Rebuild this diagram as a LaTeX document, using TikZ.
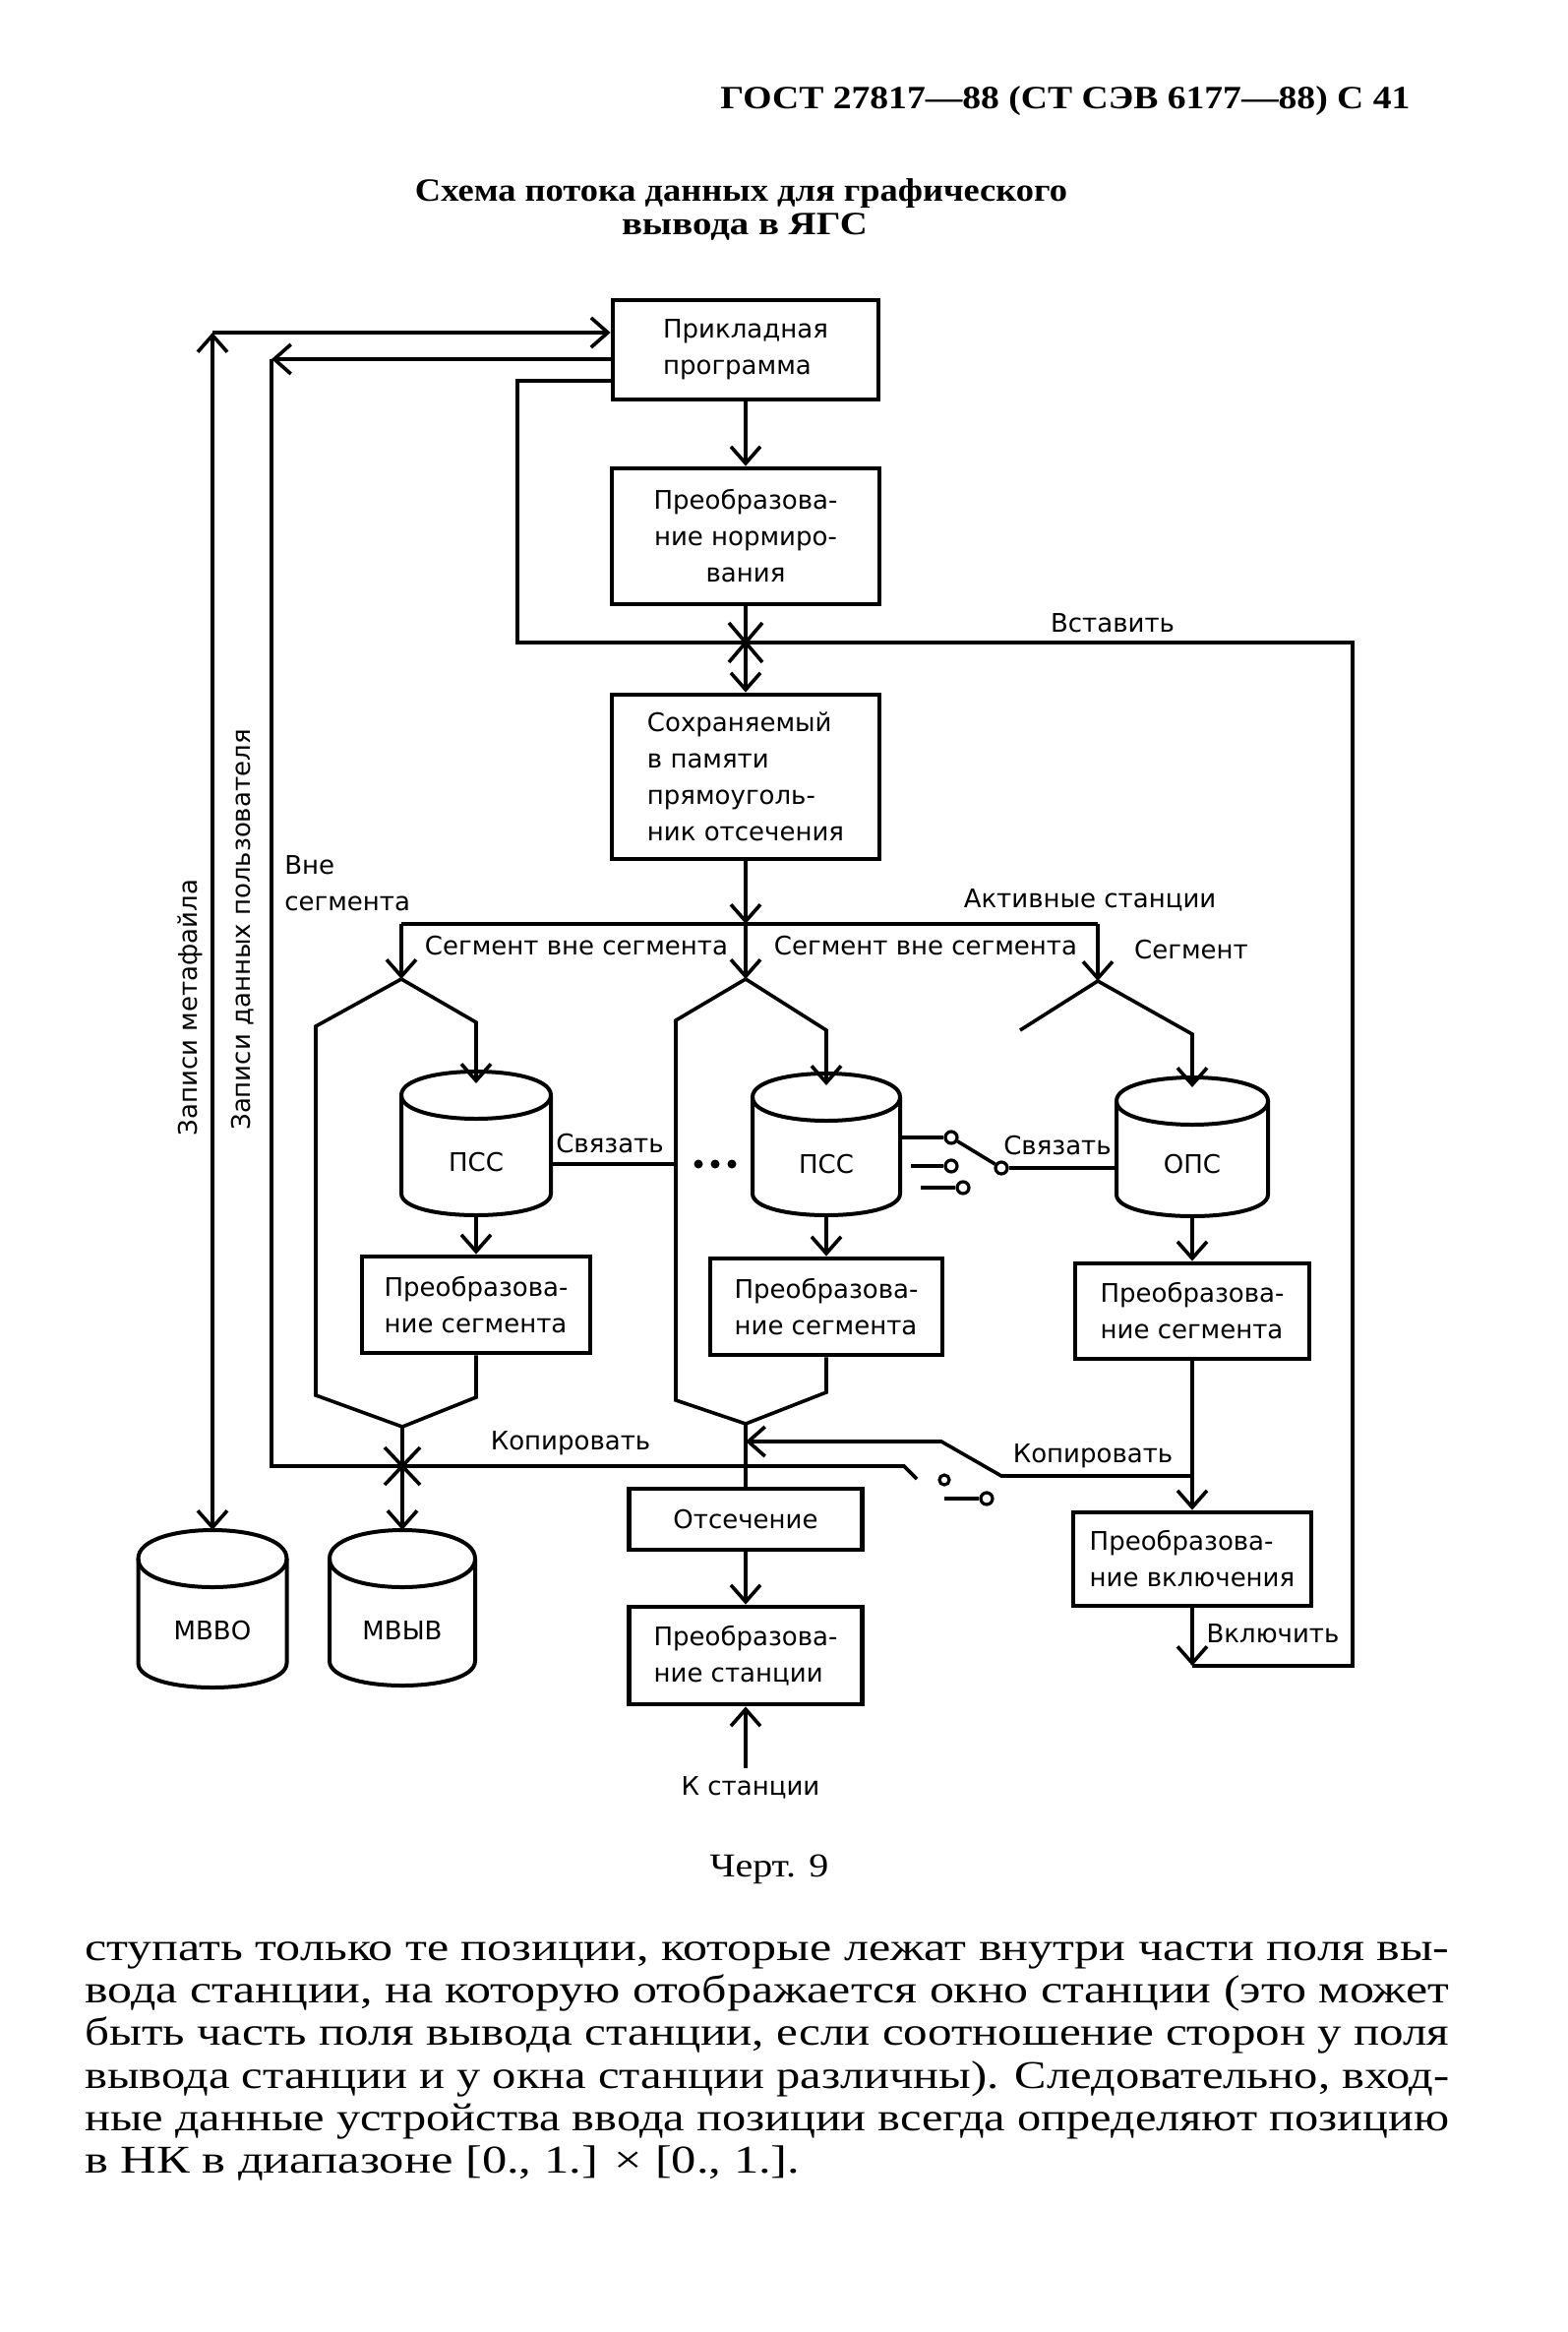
\documentclass[tikz,border=0pt]{standalone}
\usepackage{fontspec}
\usepackage{graphicx}
\setmainfont{DejaVu Sans}
\newfontfamily\serif{Liberation Serif}
\usetikzlibrary{arrows.meta,calc}
\newcommand\lbl{\fontsize{13}{18.5}\selectfont}
\newcommand\hdf{\serif\bfseries\fontsize{16.5}{20}\selectfont}
\newcommand\bdf{\serif\fontsize{20}{21.5}\selectfont}
\newcommand\cylout[3]{%
 \draw[cylline] ($(#1.north west)+(0,#2)$) .. controls ($(#1.north west)+(0,-#2/3)$) and ($(#1.north east)+(0,-#2/3)$) .. ($(#1.north east)+(0,#2)$) .. controls ($(#1.north east)+(0,#2*7/3)$) and ($(#1.north west)+(0,#2*7/3)$) .. cycle;
 \draw[cylline] ($(#1.north west)+(0,#2)$) -- ($(#1.south west)+(0,-#3)$) .. controls ($(#1.south west)+(0,#3/3)$) and ($(#1.south east)+(0,#3/3)$) .. ($(#1.south east)+(0,-#3)$) -- ($(#1.north east)+(0,#2)$);
}
\tikzset{
 conn/.style={line width=1.8pt},
 box/.style={draw, line width=2.4pt, inner sep=0pt, font=\lbl, align=left},
 cylbox/.style={inner sep=0pt, outer sep=0pt},
 cylline/.style={line width=2pt},
 lab/.style={inner sep=0pt, font=\lbl},
 swc/.style={circle, draw, fill=white, line width=1.6pt, minimum size=6pt, inner sep=0pt},
 bigdot/.style={circle, fill, minimum size=4.5pt, inner sep=0pt},
 txt/.style={inner sep=0pt},
}
\begin{document}
\begin{tikzpicture}[x=0.5pt,y=-0.5pt,>={Straight Barb[length=8.5pt,width=15pt]}]
\fill[white] (0,0) rectangle (1594,2370);
\useasboundingbox (0,0) rectangle (1594,2370);

% header and title
\node[txt, anchor=west] (hdr) at (732,103) {\resizebox{350.5pt}{\height}{\hdf ГОСТ 27817—88 (СТ СЭВ 6177—88) С 41}};
\node[txt] (t1) at (753.5,197) {\resizebox{331.5pt}{\height}{\hdf Схема потока данных для графического}};
\node[txt] (t2) at (757,230) {\resizebox{125pt}{\height}{\hdf вывода в ЯГС}};

% boxes
\node[box, minimum width=135pt, minimum height=50.5pt] (app) at (758,355.5) {Прикладная\\программа};
\node[box, align=center, minimum width=136pt, minimum height=69pt] (norm) at (758,545) {Преобразова-\\ние нормиро-\\вания};
\node[box, minimum width=136pt, minimum height=83.5pt] (clip) at (758,789.5) {Сохраняемый\\в памяти\\прямоуголь-\\ник отсечения};
\node[box, minimum width=116pt, minimum height=49pt] (seg1) at (484,1326) {Преобразова-\\ние сегмента};
\node[box, minimum width=118pt, minimum height=49pt] (seg2) at (840,1328) {Преобразова-\\ние сегмента};
\node[box, minimum width=119pt, minimum height=48.5pt] (seg3) at (1212,1332.5) {Преобразова-\\ние сегмента};
\node[box, minimum width=121pt, minimum height=47.5pt] (incl) at (1212,1584.5) {Преобразова-\\ние включения};
\node[box, align=center, minimum width=118.5pt, minimum height=31pt] (ots) at (758,1544) {Отсечение};
\node[box, minimum width=118.5pt, minimum height=49.5pt] (sta) at (758,1682.5) {Преобразова-\\ние станции};

% cylinders
\node[cylbox, minimum width=76pt, minimum height=73pt] (psc1) at (484,1162) {};
\node[cylbox, minimum width=75pt, minimum height=72pt] (psc2) at (840,1163) {};
\node[cylbox, minimum width=77pt, minimum height=70.5pt] (ops) at (1212,1165.5) {};
\node[cylbox, minimum width=75.5pt, minimum height=80pt] (mbbo) at (216,1635) {};
\node[cylbox, minimum width=74pt, minimum height=79pt] (mbyv) at (409,1634) {};
\cylout{psc1}{24}{22}
\cylout{psc2}{24}{22}
\cylout{ops}{24}{22}
\cylout{mbbo}{29}{25}
\cylout{mbyv}{29}{25}
\node[lab] (psc1t) at (484,1181) {ПСС};
\node[lab] (psc2t) at (840,1183) {ПСС};
\node[lab] (opst) at (1212,1183) {ОПС};
\node[lab] (mbbot) at (216,1657) {МВВО};
\node[lab] (mbyvt) at (409,1657) {МВЫВ};

% main column
\draw[conn,->] (app.south) -- (norm.north);
\draw[conn,->] (norm.south) -- (clip.north);
\coordinate (xa) at (758,653);
\draw[conn] (xa) +(-17,-20) -- +(17,20) (xa) +(17,-20) -- +(-17,20);

% insert loop
\coordinate (vk) at (1212,1693);
\draw[conn,->] (incl.south) -- (vk);
\draw[conn] (vk) -- (1375,1693) -- (1375,653) -- (526,653) -- (526,387) -- ($(app.west)+(0,31.5)$);

% metafile records
\coordinate (mc) at (216,338);
\draw[conn,<->] (mbbo.north) -- (mc);
\draw[conn,->] (mc) -- ($(app.west)+(0,-17.5)$);

% user data records
\coordinate (uc) at (276,365);
\coordinate (ul) at (276,1490);
\coordinate (ur) at (919,1490);
\coordinate (ue) at (932,1503);
\draw[conn,->] ($(app.west)+(0,9.5)$) -- (uc);
\draw[conn] (uc) -- (ul) -- (ur) -- (ue);
\coordinate (xb) at (409,1490);
\draw[conn] (xb) +(-18,-19) -- +(18,19) (xb) +(18,-19) -- +(-18,19);
\node[swc, minimum size=5pt] (sb1) at (960,1504) {};
\coordinate (sb2s) at (960,1523);
\node[swc] (sb2) at (1003,1523) {};
\draw[conn] (sb2s) -- (sb2);

% split
\coordinate (sp) at (758,939);
\coordinate (spl) at (408,939);
\coordinate (spr) at (1116,939);
\coordinate (al) at (408,995);
\coordinate (am) at (758,995);
\coordinate (ar) at (1116,997);
\draw[conn,->] (clip.south) -- (sp);
\draw[conn] (spl) -- (spr);
\draw[conn,->] (spl) -- (al);
\draw[conn,->] (sp) -- (am);
\draw[conn,->] (spr) -- (ar);

% left branch
\coordinate (ab1) at (409,1450);
\draw[conn] (al) -- (321,1043) -- (321,1418) -- (ab1);
\draw[conn,->] (al) -- (484,1039) -- ($(psc1.north)+(0,12)$);
\draw[conn,->] (psc1.south) -- (seg1.north);
\draw[conn] (seg1.south) -- (484,1420) -- (ab1);
\draw[conn,->] (ab1) -- (mbyv.north);

% middle branch
\coordinate (ab2) at (758,1447);
\draw[conn] (am) -- (687,1037) -- (687,1423) -- (ab2);
\draw[conn,->] (am) -- (840,1047) -- ($(psc2.north)+(0,12)$);
\draw[conn,->] (psc2.south) -- (seg2.north);
\draw[conn] (seg2.south) -- (840,1415) -- (ab2);
\draw[conn] (ab2) -- (ots.north);
\draw[conn,->] (ots.south) -- (sta.north);
\coordinate (ks) at (758,1797);
\draw[conn,->] (ks) -- (sta.south);

% right branch
\draw[conn] (ar) -- (1037,1047);
\draw[conn,->] (ar) -- (1212,1051) -- ($(ops.north)+(0,10)$);
\draw[conn,->] (ops.south) -- (seg3.north);
\draw[conn,->] (seg3.south) -- (incl.north);
\coordinate (kj) at (1212,1500);
\coordinate (km) at (758,1465);
\draw[conn,->] (kj) -- (1018,1500) -- (957,1465) -- (km);

% links
\coordinate (lk) at (687,1183);
\draw[conn] ($(psc1.east)+(0,21)$) -- (lk);
\node[bigdot] (d1) at (710,1183) {};
\node[bigdot] (d2) at (727,1183) {};
\node[bigdot] (d3) at (744,1183) {};
\node[swc] (s1) at (967,1156) {};
\node[swc] (s2) at (1018,1187) {};
\node[swc] (s3) at (967,1185) {};
\node[swc] (s4) at (979,1207) {};
\coordinate (s3s) at (926,1185);
\coordinate (s4s) at (936,1207);
\draw[conn] ($(psc2.east)+(0,-7)$) -- (s1);
\draw[conn] (s1) -- (s2);
\draw[conn] (s2) -- ($(ops.west)+(0,21.5)$);
\draw[conn] (s3s) -- (s3);
\draw[conn] (s4s) -- (s4);

% labels
\node[lab] (l1) at (620,1162) {Связать};
\node[lab] (l2) at (1075,1164) {Связать};
\node[lab] (l3) at (580,1467) {Копировать};
\node[lab] (l4) at (1111,1480) {Копировать};
\node[lab] (l5) at (1294,1660) {Включить};
\node[lab] (l6) at (1131,633) {Вставить};
\node[lab] (l7) at (1108,915) {Активные станции};
\node[lab] (l8) at (586,961) {Сегмент вне сегмента};
\node[lab] (l9) at (941,961) {Сегмент вне сегмента};
\node[lab] (l10) at (1211,965) {Сегмент};
\node[lab, anchor=west, align=left] (l11) at (289,898) {Вне\\сегмента};
\node[lab, rotate=90] (l12) at (193,1024) {Записи метафайла};
\node[lab, rotate=90] (l13) at (247,945) {Записи данных пользователя};
\node[lab] (l14) at (763,1817) {К станции};

% caption and body text
\node[txt] (cap) at (782,1900) {\resizebox{60.5pt}{\height}{\serif\fontsize{17}{20}\selectfont Черт. 9}};
\node[txt, anchor=mid west] (b1) at (86,1987) {\resizebox{693.5pt}{\height}{\bdf ступать только те позиции, которые лежат внутри части поля вы-}};
\node[txt, anchor=mid west] (b2) at (86,2030) {\resizebox{693.5pt}{\height}{\bdf вода станции, на которую отображается окно станции (это может}};
\node[txt, anchor=mid west] (b3) at (86,2073) {\resizebox{693.5pt}{\height}{\bdf быть часть поля вывода станции, если соотношение сторон у поля}};
\node[txt, anchor=mid west] (b4) at (86,2117) {\resizebox{693.5pt}{\height}{\bdf вывода станции и у окна станции различны). Следовательно, вход-}};
\node[txt, anchor=mid west] (b5) at (86,2160) {\resizebox{693.5pt}{\height}{\bdf ные данные устройства ввода позиции всегда определяют позицию}};
\node[txt, anchor=mid west] (b6) at (86,2203) {\resizebox{363.5pt}{\height}{\bdf в НК в диапазоне [0., 1.] × [0., 1.].}};
\end{tikzpicture}
\end{document}
